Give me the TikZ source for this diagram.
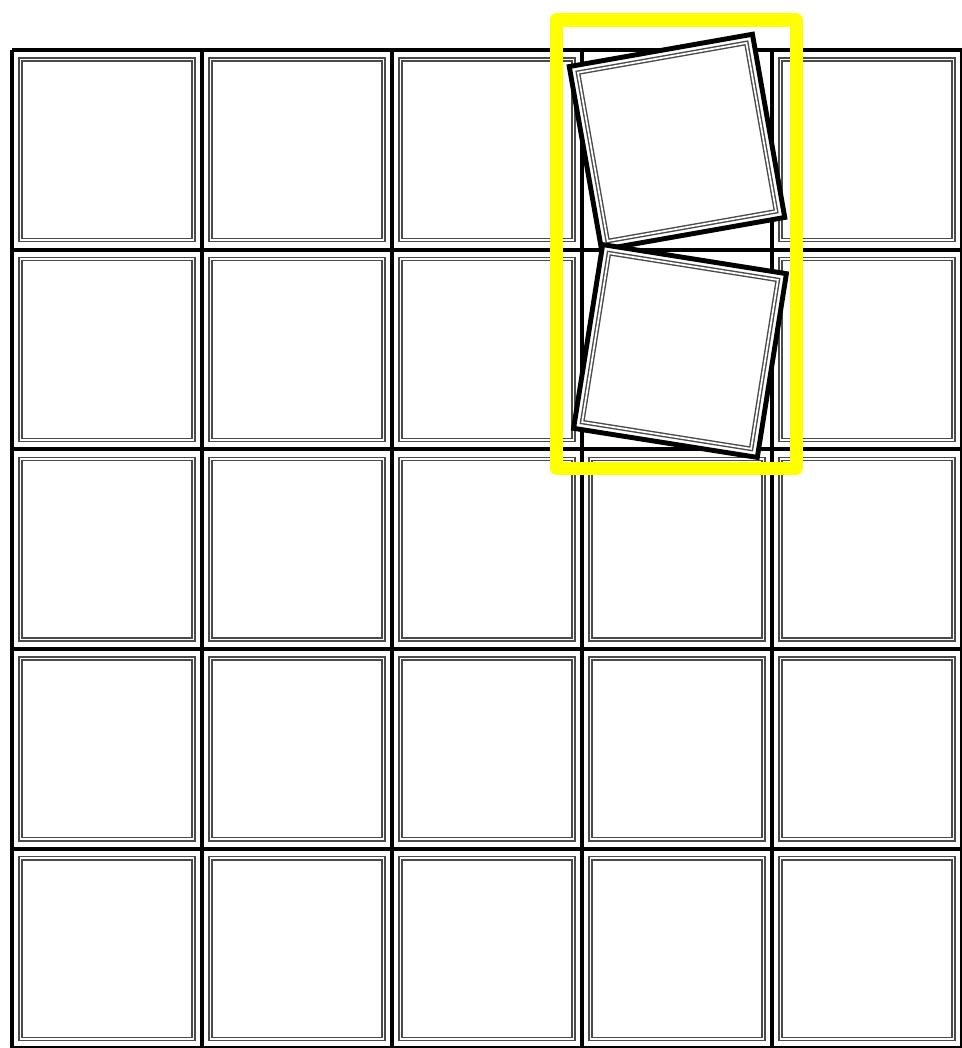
\documentclass[tikz,border=0pt]{standalone}
\usepackage{tikz}
\definecolor{hilite}{HTML}{FFFF00}
\definecolor{rimgray}{HTML}{4A4A4A}
\tikzset{
  gridline/.style={line width=2.3pt,black},
  rim/.style={draw=rimgray,line width=0.8pt,double=white,double distance=1pt},
  tile/.style={draw=black,line width=2.8pt,fill=white,line join=miter},
  frame/.style={draw=hilite,line width=7.4pt,line join=round},
}
% cell rim: column, row (0 = top left)
\newcommand{\cellrim}[2]{%
  \draw[rim] ({12+#1*190+8.5},{50+#2*199.7+9.5}) rectangle ({12+(#1+1)*190-8.5},{50+(#2+1)*199.7-9.5});}
% lifted tile: x, y, angle
\newcommand{\tiltedtile}[3]{%
  \begin{scope}[shift={(#1,#2)},rotate=#3]
    \draw[tile] (-93,-93) rectangle (93,93);
    \draw[rim] (-85.5,-85.5) rectangle (85.5,85.5);
  \end{scope}}
\begin{document}
\begin{tikzpicture}[x=0.02cm,y=-0.02cm]
\useasboundingbox (0,0) rectangle (961,1048);
\fill[white] (0,0) rectangle (961,1048);
% grid
\foreach \i in {0,...,5}
  \draw[gridline] ({12+\i*190},50) -- ({12+\i*190},1048.5);
\foreach \j in {0,...,5}
  \draw[gridline] (12,{50+\j*199.7}) -- (962,{50+\j*199.7});
% tiles still in place
\foreach \c in {0,...,4}{
  \foreach \r in {0,...,4}{
    \ifnum\c=3 \ifnum\r<2 \else\cellrim{\c}{\r}\fi \else\cellrim{\c}{\r}\fi
  }}
% the two lifted tiles
\tiltedtile{677}{142}{10}
\tiltedtile{680}{351}{-9}
% highlight
\coordinate (hl1) at (556.5,20);
\coordinate (hl2) at (796,468.5);
\draw[frame] (hl1) rectangle (hl2);
\end{tikzpicture}
\end{document}
